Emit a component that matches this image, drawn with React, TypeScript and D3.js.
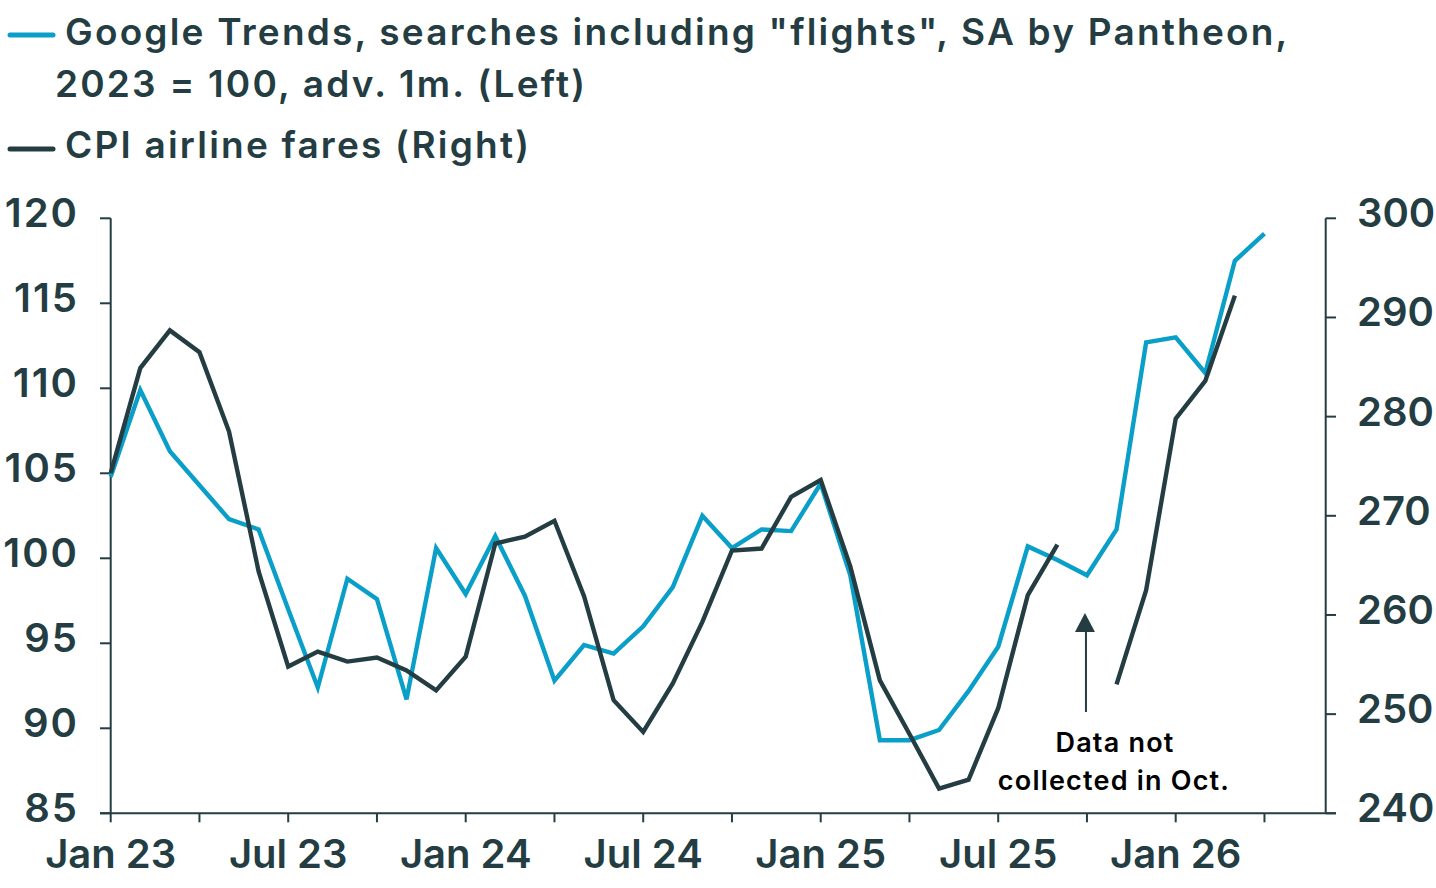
import * as d3 from "d3";

// Months on the x axis, Jan 23 .. Apr 26
const months: string[] = [
  "2023-01", "2023-02", "2023-03", "2023-04", "2023-05", "2023-06", "2023-07", "2023-08", "2023-09", "2023-10", "2023-11", "2023-12",
  "2024-01", "2024-02", "2024-03", "2024-04", "2024-05", "2024-06", "2024-07", "2024-08", "2024-09", "2024-10", "2024-11", "2024-12",
  "2025-01", "2025-02", "2025-03", "2025-04", "2025-05", "2025-06", "2025-07", "2025-08", "2025-09", "2025-10", "2025-11", "2025-12",
  "2026-01", "2026-02", "2026-03", "2026-04",
];

// Google Trends, "flights", 2023 = 100, advanced 1m (left axis)
const trends: number[] = [
  104.8, 109.9, 106.3, 104.3, 102.3, 101.7, 97.0, 92.4, 98.8, 97.6, 91.7, 100.6,
  97.9, 101.3, 97.8, 92.8, 94.9, 94.4, 96.0, 98.3, 102.5, 100.6, 101.7, 101.6,
  104.4, 99.0, 89.3, 89.3, 89.9, 92.2, 94.8, 100.7, 99.9, 99.0, 101.7, 112.7,
  113.0, 110.9, 117.5, 119.1,
];

// CPI airline fares (right axis); Oct 25 not collected
const cpi: (number | null)[] = [
  274.3, 284.9, 288.7, 286.5, 278.5, 264.4, 254.8, 256.3, 255.3, 255.7, 254.4, 252.4,
  255.8, 267.2, 267.9, 269.5, 261.9, 251.4, 248.2, 253.1, 259.3, 266.5, 266.7, 271.9,
  273.6, 264.9, 253.4, 248.0, 242.5, 243.4, 250.6, 262.0, 267.1, null, 253.0, 262.5,
  279.8, 283.6, 292.2,
];

const leftTicks = [85, 90, 95, 100, 105, 110, 115, 120];
const rightTicks = [240, 250, 260, 270, 280, 290, 300];
const xLabels = ["Jan 23", "Jul 23", "Jan 24", "Jul 24", "Jan 25", "Jul 25", "Jan 26"];

const BLUE = "#0a9fc8";
const DARK = "#243d43";
const FONT = "Inter, 'Noto Sans', sans-serif";

export default function App() {
  const width = 1436;
  const height = 888;
  const left = 110.7;
  const right = 1325.7;
  const top = 218.3;
  const bottom = 813.3;

  const x = d3.scaleLinear().domain([0, 41.07]).range([left, right]);
  const yL = d3.scaleLinear().domain([85, 120]).range([bottom, top]);
  const yR = d3.scaleLinear().domain([240, 300]).range([bottom, top]);

  const trendLine = d3.line<number>()
    .x((_, i) => x(i))
    .y(d => yL(d));

  const cpiLine = d3.line<number | null>()
    .defined(d => d != null)
    .x((_, i) => x(i))
    .y(d => yR(d as number));

  const quarterTicks = months.map((_, i) => i).filter(i => i % 3 === 0);

  // arrow pointing at the missing October point
  const arrowX = x(months.indexOf("2025-10"));
  const arrowTip = 613;
  const arrowBase = 712;

  return (
    <svg width={width} height={height} style={{ display: "block", position: "absolute", left: 0, top: 0 }}>
      <rect width={width} height={height} fill="#fff" />

      {/* legend */}
      <g fontFamily={FONT} fontWeight={600} fill={DARK} fontSize={37} letterSpacing={2.2}>
        <line x1={10} x2={53} y1={35} y2={35} stroke={BLUE} strokeWidth={5} strokeLinecap="round" />
        <text x={65} y={45}>Google Trends, searches including "flights", SA by Pantheon,</text>
        <text x={55} y={97}>2023 = 100, adv. 1m. (Left)</text>
        <line x1={10} x2={53} y1={149} y2={149} stroke={DARK} strokeWidth={5} strokeLinecap="round" />
        <text x={65} y={158}>CPI airline fares (Right)</text>
      </g>

      {/* axes */}
      <g stroke={DARK} strokeWidth={2} fill="none">
        <line x1={left} x2={left} y1={top} y2={bottom} />
        <line x1={right} x2={right} y1={top} y2={bottom} />
        <line x1={100} x2={1336} y1={bottom} y2={bottom} />
        {leftTicks.map(t => (
          <line key={"l" + t} x1={100} x2={left} y1={yL(t)} y2={yL(t)} />
        ))}
        {rightTicks.map(t => (
          <line key={"r" + t} x1={right} x2={1336} y1={yR(t)} y2={yR(t)} />
        ))}
        {quarterTicks.map(i => (
          <line key={"x" + i} x1={x(i)} x2={x(i)} y1={bottom} y2={bottom + 9} />
        ))}
      </g>

      <g fontFamily={FONT} fontWeight={600} fill={DARK} fontSize={40}>
        {leftTicks.map(t => (
          <text key={"lt" + t} x={79} y={yL(t) + 9} textAnchor="end" letterSpacing={2}>{t}</text>
        ))}
        {rightTicks.map(t => (
          <text key={"rt" + t} x={1357} y={yR(t) + 9}>{t}</text>
        ))}
        {xLabels.map((lab, k) => (
          <text key={lab} x={x(k * 6)} y={868} textAnchor="middle">{lab}</text>
        ))}
      </g>

      {/* series */}
      <path d={trendLine(trends) ?? ""} fill="none" stroke={BLUE} strokeWidth={4.4} strokeLinejoin="miter" />
      <path d={cpiLine(cpi) ?? ""} fill="none" stroke={DARK} strokeWidth={4.4} strokeLinejoin="miter" />

      {/* annotation */}
      <line x1={arrowX - 1} x2={arrowX - 1} y1={arrowBase} y2={arrowTip + 15} stroke={DARK} strokeWidth={2} />
      <path d={`M${arrowX - 2},${arrowTip} L${arrowX + 8},${arrowTip + 19} L${arrowX - 12},${arrowTip + 19} Z`} fill={DARK} />
      <g fontFamily={FONT} fontWeight={600} fill="#000" fontSize={27} textAnchor="middle" letterSpacing={1.2}>
        <text x={1115} y={752}>Data not</text>
        <text x={1114} y={790}>collected in Oct.</text>
      </g>
    </svg>
  );
}
